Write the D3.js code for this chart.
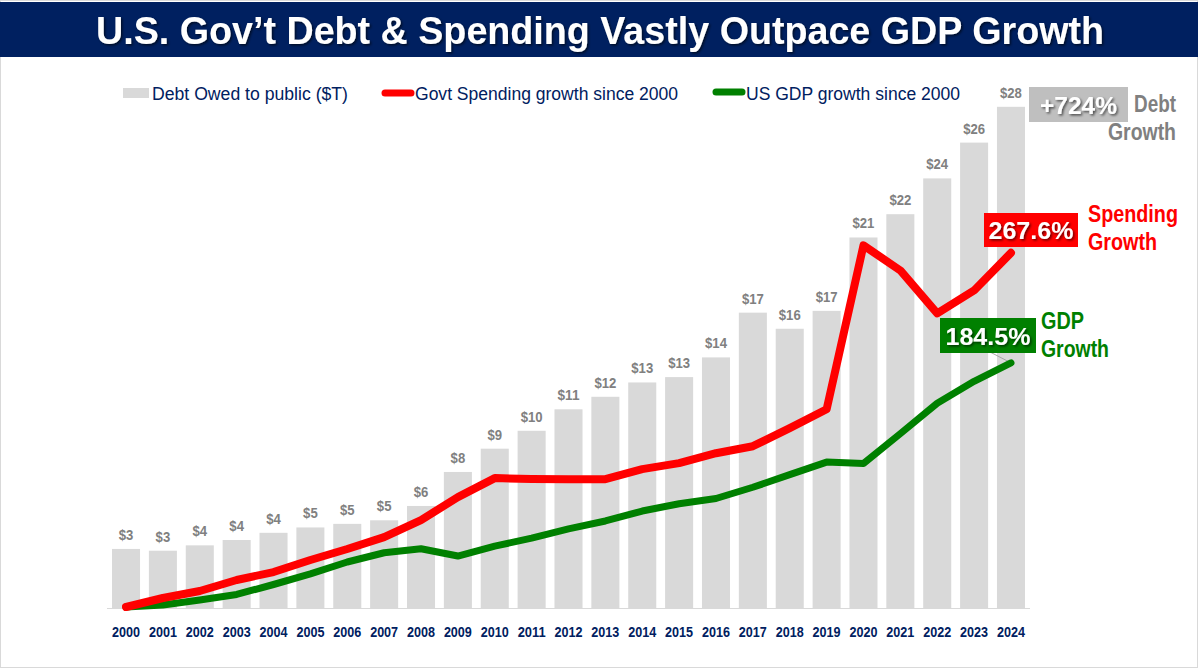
<!DOCTYPE html>
<html>
<head>
<meta charset="utf-8">
<script src="https://cdn.jsdelivr.net/npm/d3@7"></script>
<style>
  body { margin: 0; background: #fff; }
  svg { display: block; }
</style>
</head>
<body>
<svg id="chart" width="1200" height="670"></svg>
<script>
let years = ['2000', '2001', '2002', '2003', '2004', '2005', '2006', '2007', '2008', '2009', '2010', '2011',
  '2012', '2013', '2014', '2015', '2016', '2017', '2018', '2019', '2020', '2021', '2022', '2023', '2024']

// debt held by public, $T
let debt = [3.3, 3.2, 3.5, 3.8, 4.2, 4.5, 4.7, 4.9, 5.7, 7.6, 8.9, 9.9, 11.1, 11.8, 12.6, 12.9, 14.0,
  16.5, 15.6, 16.6, 20.7, 22.0, 24.0, 26.0, 28.0]

// % growth since 2000
let spending = [0, 6.8, 12.1, 20.4, 26.4, 35.5, 43.8, 52.8, 65.7, 83.0, 97.4, 96.8, 96.6, 96.6, 104.2,
  108.7, 116.2, 121.5, 135.1, 149.4, 273.2, 254.3, 221.9, 239.2, 267.6]
let gdp = [0, 1.5, 5.3, 9.5, 17.0, 25.0, 34.0, 41.0, 44.0, 38.5, 46.0, 52.0, 59.0, 65.0, 72.5, 78.0,
  82.0, 90.5, 100.0, 109.5, 108.5, 131.0, 154.0, 170.5, 184.5]

let legendLabels = ['Debt Owed to public ($T)', 'Govt Spending growth since 2000', 'US GDP growth since 2000']

let navy = '#002060'
let narrow = "'Liberation Sans Narrow', 'Arial Narrow', 'Liberation Sans', Arial, sans-serif"

var svg = d3.select('#chart')

// frame + title bar
svg.append('rect')
  .attr('x', 0.5).attr('y', 0.5).attr('width', 1197).attr('height', 667)
  .attr('fill', 'white').attr('stroke', '#d9d9d9')

svg.append('rect')
  .attr('x', 0).attr('y', 2).attr('width', 1198).attr('height', 55)
  .attr('fill', navy)

var defs = svg.append('defs')
defs.append('filter').attr('id', 'shadow')
  .append('feDropShadow')
  .attr('dx', 1.5).attr('dy', 1.5).attr('stdDeviation', 1)
  .attr('flood-color', '#000').attr('flood-opacity', 0.6)

svg.append('text')
  .text('U.S. Gov\u2019t Debt & Spending Vastly Outpace GDP Growth')
  .attr('x', 600).attr('y', 44)
  .attr('text-anchor', 'middle')
  .attr('font-family', narrow)
  .attr('font-weight', 'bold')
  .attr('font-size', 38)
  .attr('fill', 'white')
  .attr('textLength', 1008)
  .attr('lengthAdjust', 'spacingAndGlyphs')
  .attr('filter', 'url(#shadow)')

var xScale = d3.scaleBand()
  .domain(years)
  .range([107.6, 1029.4])
  .paddingInner(0.24)
  .paddingOuter(0.12)

var yDebt = d3.scaleLinear().domain([0, 30]).range([608, 71])
var yPct = d3.scaleLinear().domain([0, 405]).range([607, 71])

// bars
svg.selectAll('.bar')
  .data(debt)
  .enter()
  .append('rect')
  .attr('class', 'bar')
  .attr('x', (d, i) => xScale(years[i]))
  .attr('width', xScale.bandwidth())
  .attr('y', d => yDebt(d))
  .attr('height', d => yDebt(0) - yDebt(d))
  .attr('fill', '#d9d9d9')

svg.selectAll('.bar-label')
  .data(debt)
  .enter()
  .append('text')
  .attr('class', 'bar-label')
  .text(d => '$' + Math.round(d))
  .attr('x', (d, i) => xScale(years[i]) + xScale.bandwidth() / 2)
  .attr('y', d => yDebt(d) - 9)
  .attr('text-anchor', 'middle')
  .attr('font-family', narrow)
  .attr('font-weight', 'bold')
  .attr('font-size', 15)
  .attr('fill', '#808080')
  .attr('textLength', d => ('$' + Math.round(d)).length * 7.3)
  .attr('lengthAdjust', 'spacingAndGlyphs')

// x axis
svg.append('line')
  .attr('x1', 107).attr('x2', 1030)
  .attr('y1', 608.5).attr('y2', 608.5)
  .attr('stroke', '#d9d9d9')

svg.selectAll('.x-label')
  .data(years)
  .enter()
  .append('text')
  .text(d => d)
  .attr('x', d => xScale(d) + xScale.bandwidth() / 2)
  .attr('y', 637)
  .attr('text-anchor', 'middle')
  .attr('font-family', narrow)
  .attr('font-weight', 'bold')
  .attr('font-size', 14.5)
  .attr('fill', navy)
  .attr('textLength', 28)
  .attr('lengthAdjust', 'spacingAndGlyphs')

// lines
var line = d3.line()
  .x((d, i) => xScale(years[i]) + xScale.bandwidth() / 2)
  .y(d => yPct(d))

// leader line for gdp label
svg.append('line')
  .attr('x1', 990).attr('y1', 352)
  .attr('x2', xScale('2024') + xScale.bandwidth() / 2).attr('y2', yPct(gdp[gdp.length - 1]))
  .attr('stroke', '#a6a6a6').attr('stroke-width', 1)

svg.append('path')
  .datum(gdp)
  .attr('d', line)
  .attr('fill', 'none')
  .attr('stroke', '#008000')
  .attr('stroke-width', 7)
  .attr('stroke-linecap', 'round')
  .attr('stroke-linejoin', 'round')

svg.append('path')
  .datum(spending)
  .attr('d', line)
  .attr('fill', 'none')
  .attr('stroke', '#ff0000')
  .attr('stroke-width', 8)
  .attr('stroke-linecap', 'round')
  .attr('stroke-linejoin', 'round')

// legend
var legend = svg.append('g').attr('font-family', narrow).attr('font-size', 18).attr('fill', navy)

legend.append('rect')
  .attr('x', 123).attr('y', 88).attr('width', 26).attr('height', 10)
  .attr('fill', '#d9d9d9')
legend.append('text').text(legendLabels[0])
  .attr('x', 152).attr('y', 100)
  .attr('textLength', 196).attr('lengthAdjust', 'spacingAndGlyphs')

legend.append('line')
  .attr('x1', 385).attr('x2', 411).attr('y1', 93).attr('y2', 93)
  .attr('stroke', '#ff0000').attr('stroke-width', 7).attr('stroke-linecap', 'round')
legend.append('text').text(legendLabels[1])
  .attr('x', 415).attr('y', 100)
  .attr('textLength', 263).attr('lengthAdjust', 'spacingAndGlyphs')

legend.append('line')
  .attr('x1', 716).attr('x2', 742).attr('y1', 92).attr('y2', 92)
  .attr('stroke', '#008000').attr('stroke-width', 7).attr('stroke-linecap', 'round')
legend.append('text').text(legendLabels[2])
  .attr('x', 746).attr('y', 100)
  .attr('textLength', 214).attr('lengthAdjust', 'spacingAndGlyphs')

// annotations
function callout(x, y, w, h, fill, label, tw) {
  svg.append('rect')
    .attr('x', x).attr('y', y).attr('width', w).attr('height', h)
    .attr('fill', fill)
  svg.append('text')
    .text(label)
    .attr('x', x + w / 2).attr('y', y + h / 2 + 9)
    .attr('text-anchor', 'middle')
    .attr('font-family', "'Liberation Sans', Arial, sans-serif")
    .attr('font-weight', 'bold')
    .attr('font-size', 24)
    .attr('fill', 'white')
    .attr('textLength', tw)
    .attr('lengthAdjust', 'spacingAndGlyphs')
    .attr('filter', 'url(#shadow)')
}

function note(lines, color) {
  svg.selectAll(null)
    .data(lines)
    .enter()
    .append('text')
    .text(d => d.t)
    .attr('x', d => d.x)
    .attr('y', d => d.y)
    .attr('font-family', narrow)
    .attr('font-weight', 'bold')
    .attr('font-size', 23)
    .attr('fill', color)
    .attr('textLength', d => d.w)
    .attr('lengthAdjust', 'spacingAndGlyphs')
}

callout(1029, 87, 99, 35, '#bfbfbf', '+724%', 77)
note([{ t: 'Debt', x: 1134, y: 112, w: 42 }, { t: 'Growth', x: 1108, y: 140, w: 68 }], '#808080')

callout(984, 213, 94, 34, '#ff0000', '267.6%', 85)
note([{ t: 'Spending', x: 1088, y: 222, w: 90 }, { t: 'Growth', x: 1088, y: 250, w: 69 }], '#ff0000')

callout(940, 318, 96, 35, '#008000', '184.5%', 85)
note([{ t: 'GDP', x: 1041, y: 329, w: 43 }, { t: 'Growth', x: 1041, y: 357, w: 68 }], '#008000')
</script>
</body>
</html>
